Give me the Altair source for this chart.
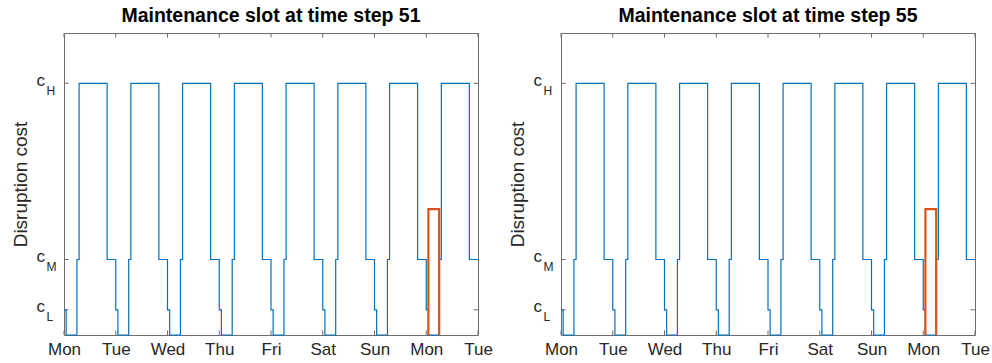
import altair as alt
import pandas as pd

FONT = "Liberation Sans"
TEXT = "#262626"
AXIS = "#6e6e6e"
BLUE = "#0072BD"
ORANGE = "#D95319"

# x axis: hours over eight days, one tick per midnight
tick_hours = [0, 24, 48, 72, 96, 120, 144, 168, 192]
day_labels = ["Mon", "Tue", "Wed", "Thu", "Fri", "Sat", "Sun", "Mon", "Tue"]

# y axis: the three cost levels
cost_levels = [1, 3, 10]
cost_names = ["L", "M", "H"]

# disruption-cost profile as step change points (hour, cost level from that hour on)
step_hours = [
    0, 1, 6, 7, 20,
    24, 25, 30, 31, 44,
    48, 49, 54, 55, 68,
    72, 73, 78, 79, 92,
    96, 97, 102, 103, 116,
    120, 121, 126, 127, 140,
    144, 145, 150, 151, 164,
    168, 169, 174, 175, 188,
    192,
]
step_costs = [
    1, 0, 3, 10, 3,
    1, 0, 3, 10, 3,
    1, 0, 3, 10, 3,
    1, 0, 3, 10, 3,
    1, 0, 3, 10, 3,
    1, 0, 3, 10, 3,
    1, 0, 3, 10, 3,
    1, 0, 3, 10, 3,
    3,
]

# maintenance slot outline
slot_hours = [169, 169, 174, 174]
slot_costs = [0, 5, 5, 0]

panel_titles = [
    "Maintenance slot at time step 51",
    "Maintenance slot at time step 55",
]

W, H = 414, 302
TICK = 4.5

x_scale = alt.Scale(domain=[0, 192], nice=False, zero=False)
y_scale = alt.Scale(domain=[0, 12], nice=False, zero=True)

label_expr = "[" + ",".join(f"'{d}'" for d in day_labels) + "][round(datum.value / 24)]"

profile_df = pd.DataFrame({"hour": step_hours, "cost": step_costs})
slot_df = pd.DataFrame({"hour": slot_hours, "cost": slot_costs, "k": list(range(len(slot_hours)))})
xtick_df = pd.DataFrame({"hour": tick_hours})
level_df = pd.DataFrame({"cost": cost_levels, "name": cost_names})

x_axis = alt.Axis(
    values=tick_hours, labelExpr=label_expr, title=None, grid=False,
    domain=False, ticks=False, tickSize=0, labelPadding=6,
    labelFont=FONT, labelFontSize=17, labelColor=TEXT,
    labelFlush=False, labelOverlap=False,
)
y_axis = alt.Axis(
    values=cost_levels, labels=False, title="Disruption cost", grid=False,
    domain=False, ticks=False, tickSize=0, titlePadding=34,
    titleFont=FONT, titleFontSize=19, titleFontWeight="normal", titleColor=TEXT,
)


def xenc():
    return alt.X("hour:Q", scale=x_scale, axis=x_axis)


def yenc():
    return alt.Y("cost:Q", scale=y_scale, axis=y_axis)


def panel(title):
    bottom_ticks = alt.Chart(xtick_df).mark_rule(color=AXIS, strokeWidth=1).encode(
        x=xenc(), y=alt.value(H), y2=alt.value(H - TICK),
    )
    top_ticks = alt.Chart(xtick_df).mark_rule(color=AXIS, strokeWidth=1).encode(
        x=xenc(), y=alt.value(0), y2=alt.value(TICK),
    )
    left_ticks = alt.Chart(level_df).mark_rule(color=AXIS, strokeWidth=1).encode(
        y=yenc(), x=alt.value(0), x2=alt.value(TICK),
    )
    right_ticks = alt.Chart(level_df).mark_rule(color=AXIS, strokeWidth=1).encode(
        y=yenc(), x=alt.value(W - TICK), x2=alt.value(W),
    )

    profile = alt.Chart(profile_df).mark_line(
        interpolate="step-after", color=BLUE, strokeWidth=1.2
    ).encode(x=xenc(), y=yenc())

    slot = alt.Chart(slot_df).mark_line(color=ORANGE, strokeWidth=2.2).encode(
        x=xenc(), y=yenc(), order="k:Q",
    )

    # tick labels "c" with subscript level letter
    c_text = alt.Chart(level_df).mark_text(
        text="c", align="right", baseline="alphabetic", dy=2.5,
        font=FONT, fontSize=17, color=TEXT,
    ).encode(x=alt.value(-19), y=yenc())
    sub_text = alt.Chart(level_df).mark_text(
        align="left", baseline="alphabetic", dy=11.5,
        font=FONT, fontSize=12, color=TEXT,
    ).encode(x=alt.value(-17.5), y=yenc(), text="name:N")

    return alt.layer(
        bottom_ticks, top_ticks, left_ticks, right_ticks,
        profile, slot, c_text, sub_text,
    ).properties(
        width=W, height=H,
        title=alt.TitleParams(
            text=title, font=FONT, fontSize=19.5, fontWeight="bold",
            color="#000000", anchor="middle", frame="group", offset=6,
        ),
    )


chart = alt.hconcat(
    *[panel(t) for t in panel_titles], spacing=14
).properties(
    padding={"left": 10, "top": 5, "right": 0, "bottom": 0},
    background="white",
).configure_view(
    stroke=AXIS, strokeWidth=1,
)

chart.save("out.html", embed_options={"renderer": "svg", "actions": False})
